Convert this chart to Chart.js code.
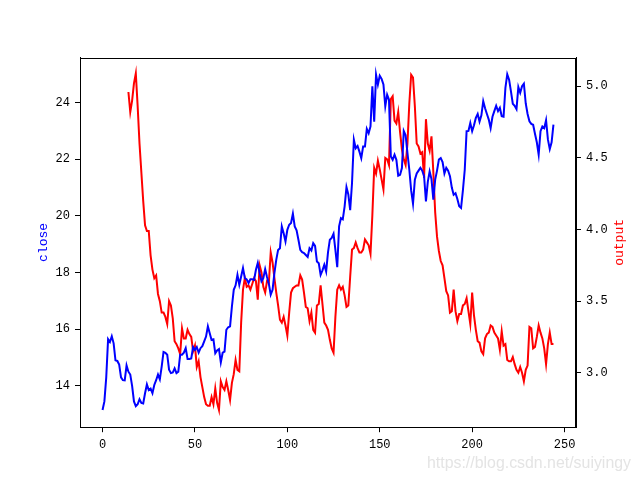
<!DOCTYPE html>
<html>
<head>
<meta charset="utf-8">
<script src="https://cdn.jsdelivr.net/npm/chart.js@4.4.0/dist/chart.umd.min.js"></script>
<style>
  html, body { margin: 0; padding: 0; background: #fff; }
</style>
</head>
<body>
<canvas id="chart" width="640" height="480"></canvas>
<script>
// close price, one value per day (index 0..244)
const closeValues = [
  13.15, 13.45, 14.30, 15.65, 15.55, 15.75, 15.50, 14.90, 14.88, 14.75,
  14.30, 14.20, 14.19, 14.72, 14.50, 14.40, 14.00, 13.45, 13.28, 13.35,
  13.53, 13.40, 13.38, 13.74, 14.05, 13.85, 13.90, 13.74, 14.03, 14.20,
  14.40, 14.23, 14.68, 15.20, 15.17, 15.10, 14.57, 14.45, 14.47, 14.62,
  14.45, 14.50, 15.10, 15.10, 15.17, 15.33, 14.95, 14.95, 14.97, 15.37,
  15.27, 15.37, 15.17, 15.33, 15.40, 15.57, 15.74, 16.10, 15.86, 15.62,
  15.64, 15.15, 15.25, 15.30, 14.83, 15.17, 15.21, 15.98, 16.07, 16.10,
  16.80, 17.39, 17.55, 17.92, 17.57, 17.86, 18.16, 17.80, 17.76, 17.63,
  17.76, 17.76, 17.74, 18.10, 18.34, 17.98, 17.69, 17.80, 18.12, 17.84,
  17.60, 17.22, 17.39, 17.98, 18.45, 18.80, 18.86, 19.63, 19.39, 19.10,
  19.51, 19.69, 19.75, 20.08, 19.63, 19.49, 19.16, 18.80, 18.72, 18.69,
  18.62, 18.55, 18.86, 18.78, 19.04, 18.94, 18.39, 18.33, 17.92, 18.08,
  18.28, 18.04, 18.71, 19.16, 19.22, 19.37, 18.80, 18.19, 19.63, 19.92,
  19.88, 20.34, 21.02, 20.76, 20.20, 21.16, 22.69, 22.39, 22.47, 22.27,
  22.04, 22.45, 22.45, 23.07, 22.92, 23.16, 24.58, 23.33, 24.99, 24.64,
  24.95, 24.84, 24.64, 23.87, 24.28, 24.10, 22.10, 21.98, 22.16, 21.98,
  21.42, 21.45, 21.69, 23.00, 22.85, 22.22, 21.63, 20.90, 20.43, 21.28,
  21.50, 21.60, 21.70, 21.60, 21.40, 20.51, 21.20, 21.57, 21.30, 20.57,
  21.28, 21.60, 21.99, 22.04, 21.90, 21.50, 21.70, 21.60, 21.40, 21.00,
  20.75, 20.80, 20.60, 20.34, 20.28, 20.90, 21.63, 22.99, 23.00, 23.28,
  22.99, 23.20, 23.46, 23.60, 23.33, 23.55, 24.05, 23.80, 23.60, 23.40,
  23.10, 23.50, 23.70, 23.89, 23.70, 23.82, 23.52, 23.50, 24.52, 25.00,
  24.81, 24.40, 23.96, 23.89, 23.77, 24.55, 24.35, 24.58, 24.67, 23.97,
  23.60, 23.34, 23.25, 23.22, 22.90, 22.60, 22.16, 22.99, 23.16, 23.10,
  23.38, 22.70, 22.36, 22.60, 23.22
];

// output series starts later (index 14..244)
const outputStart = 14;
const outputValues = [
  4.96, 4.82, 4.90, 5.02, 5.09, 4.86, 4.60, 4.40, 4.20, 4.03,
  3.99, 3.99, 3.82, 3.72, 3.66, 3.68, 3.55, 3.50, 3.42, 3.42,
  3.39, 3.34, 3.50, 3.47, 3.38, 3.22, 3.20, 3.17, 3.13, 3.31,
  3.24, 3.24, 3.30, 3.27, 3.25, 3.15, 3.19, 3.04, 3.08, 2.97,
  2.90, 2.83, 2.78, 2.77, 2.77, 2.83, 2.78, 2.89, 2.79, 2.74,
  2.94, 2.90, 2.88, 2.94, 2.88, 2.81, 2.93, 2.99, 3.09, 3.02,
  3.01, 3.35, 3.58, 3.66, 3.60, 3.61, 3.58, 3.62, 3.66, 3.64,
  3.51, 3.75, 3.70, 3.60, 3.56, 3.64, 3.63, 3.84, 3.77, 3.66,
  3.56, 3.47, 3.37, 3.35, 3.39, 3.33, 3.26, 3.42, 3.56, 3.59,
  3.60, 3.61, 3.61, 3.68, 3.65, 3.56, 3.46, 3.45, 3.36, 3.42,
  3.30, 3.28, 3.47, 3.48, 3.61, 3.48, 3.35, 3.33, 3.30, 3.23,
  3.17, 3.14, 3.39, 3.58, 3.61, 3.58, 3.60, 3.54, 3.46, 3.47,
  3.67, 3.86, 3.87, 3.91, 3.87, 3.84, 3.84, 3.86, 3.93, 3.91,
  3.89, 3.83, 4.10, 4.43, 4.39, 4.48, 4.42, 4.35, 4.28, 4.50,
  4.49, 4.45, 4.91, 4.93, 4.76, 4.74, 4.82, 4.68, 4.56, 4.49,
  4.45, 4.60, 4.88, 5.08, 5.06, 4.86, 4.60, 4.58, 4.53, 4.54,
  4.36, 4.77, 4.60, 4.55, 4.65, 4.40, 4.12, 3.95, 3.85, 3.78,
  3.75, 3.66, 3.57, 3.54, 3.42, 3.43, 3.58, 3.43, 3.36, 3.41,
  3.41, 3.47, 3.48, 3.52, 3.43, 3.34, 3.56, 3.40, 3.30, 3.22,
  3.21, 3.15, 3.13, 3.24, 3.27, 3.28, 3.33, 3.32, 3.28, 3.26,
  3.24, 3.16, 3.29, 3.19, 3.20, 3.09, 3.08, 3.08, 3.11, 3.06,
  3.02, 3.00, 3.04, 3.00, 2.94, 3.02, 3.05, 3.32, 3.31, 3.17,
  3.18, 3.25, 3.33, 3.28, 3.24, 3.17, 3.06, 3.20, 3.28, 3.20, 3.20
];

const xTicks = [0, 50, 100, 150, 200, 250];
const closeTicks = [14, 16, 18, 20, 22, 24];
const outputTicks = [3.0, 3.5, 4.0, 4.5, 5.0];

const closePoints = closeValues.map((v, i) => ({ x: i, y: v }));
const outputPoints = outputValues.map((v, i) => ({ x: i + outputStart, y: v }));

Chart.defaults.font.family = "'Liberation Mono', 'DejaVu Sans Mono', monospace";
Chart.defaults.font.size = 12;
Chart.defaults.color = "#000";

const tickGrid = { drawOnChartArea: false, drawTicks: true, tickLength: 5, color: "#000" };
const axisBorder = { display: true, color: "#000", width: 1 };

// box around plot, axis names and the watermark
const extrasPlugin = {
  id: "extras",
  afterDraw(chart) {
    const { ctx, chartArea: a } = chart;
    ctx.save();
    ctx.strokeStyle = "#000";
    ctx.lineWidth = 1;
    ctx.strokeRect(Math.round(a.left) + 0.5, Math.round(a.top) + 0.5,
      Math.round(a.right - a.left) - 1, Math.round(a.bottom - a.top) - 1);

    const midY = (a.top + a.bottom) / 2;
    ctx.font = "13px 'Liberation Mono', monospace";
    ctx.textAlign = "center";
    ctx.textBaseline = "middle";

    ctx.save();
    ctx.fillStyle = "#0000ff";
    ctx.translate(44, midY);
    ctx.rotate(-Math.PI / 2);
    ctx.fillText("close", 0, 0);
    ctx.restore();

    ctx.save();
    ctx.fillStyle = "#ff0000";
    ctx.translate(620, midY);
    ctx.rotate(-Math.PI / 2);
    ctx.fillText("output", 0, 0);
    ctx.restore();

    ctx.font = "17px 'Liberation Sans', Arial, sans-serif";
    ctx.textAlign = "right";
    ctx.textBaseline = "alphabetic";
    ctx.fillStyle = "#e4e4e4";
    ctx.fillText("https://blog.csdn.net/suiyingy", 631, 468, 204);
    ctx.restore();
  }
};

new Chart(document.getElementById("chart").getContext("2d"), {
  type: "line",
  data: {
    datasets: [
      {
        label: "close",
        data: closePoints,
        yAxisID: "y",
        borderColor: "#0000ff",
        borderWidth: 2,
        pointRadius: 0,
        tension: 0,
        fill: false,
      },
      {
        label: "output",
        data: outputPoints,
        yAxisID: "y1",
        borderColor: "#ff0000",
        borderWidth: 2,
        pointRadius: 0,
        tension: 0,
        fill: false,
      },
    ],
  },
  options: {
    responsive: false,
    animation: false,
    layout: { padding: { top: 57.6, left: 0, right: 0, bottom: 0 } },
    plugins: { legend: { display: false }, tooltip: { enabled: false } },
    scales: {
      x: {
        type: "linear",
        min: -12.2,
        max: 256.2,
        grid: tickGrid,
        border: axisBorder,
        ticks: { padding: 5, maxRotation: 0 },
        afterBuildTicks: (s) => { s.ticks = xTicks.map((v) => ({ value: v })); },
        afterFit: (s) => { s.height = 52.8; },
      },
      y: {
        type: "linear",
        position: "left",
        min: 12.54,
        max: 25.59,
        grid: tickGrid,
        border: axisBorder,
        ticks: { padding: 5 },
        afterBuildTicks: (s) => { s.ticks = closeTicks.map((v) => ({ value: v })); },
        afterFit: (s) => { s.width = 80; },
      },
      y1: {
        type: "linear",
        position: "right",
        min: 2.62,
        max: 5.20,
        grid: tickGrid,
        border: axisBorder,
        ticks: { padding: 5, callback: (v) => Number(v).toFixed(1) },
        afterBuildTicks: (s) => { s.ticks = outputTicks.map((v) => ({ value: v })); },
        afterFit: (s) => { s.width = 64; },
      },
    },
  },
  plugins: [extrasPlugin],
});
</script>
</body>
</html>
